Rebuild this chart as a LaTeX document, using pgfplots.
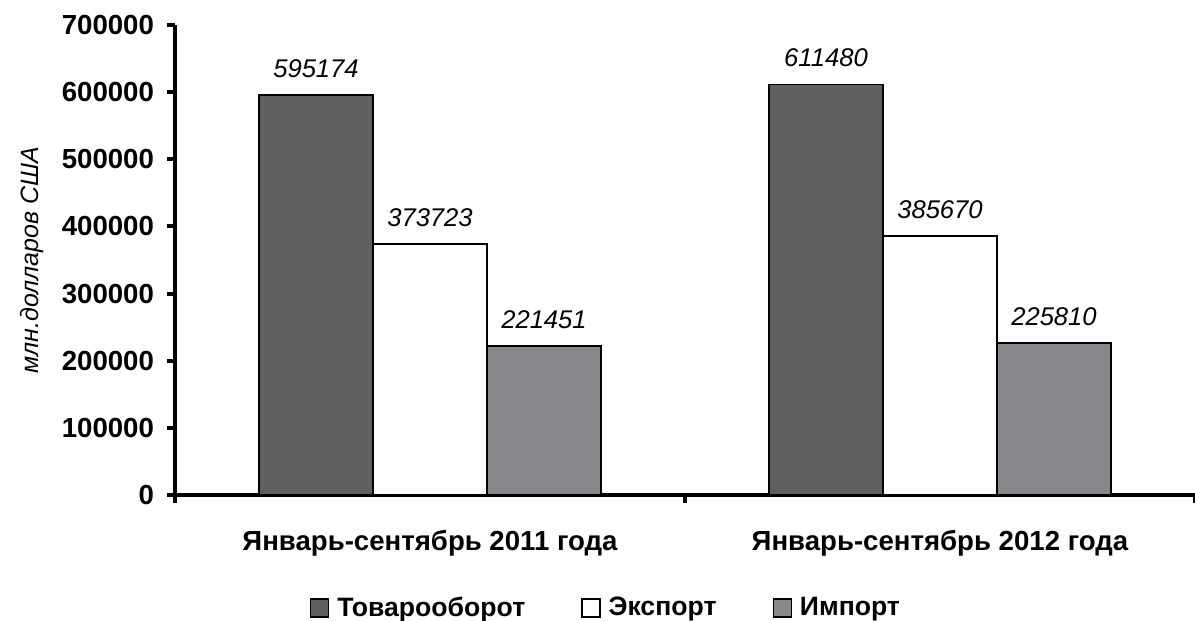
\documentclass[border=0pt]{standalone}
\usepackage{pgfplots}
\pgfplotsset{compat=1.18}
\usepackage{fontspec}
\setmainfont{Liberation Sans}
\definecolor{darkbar}{HTML}{5F5F62}
\definecolor{greybar}{HTML}{88888C}

\pgfplotsset{
  boxleg/.style={legend image code/.code={%
    \draw[##1, line width=0.7pt] (0pt,-4.5pt) rectangle (9pt,4.5pt);}},
}

\begin{document}
\begin{tikzpicture}
  \begin{axis}[
      scale only axis,
      width=510pt, height=235pt,
      ybar=0pt, bar width=57pt,
      xmin=-0.5, xmax=1.5,
      ymin=0, ymax=700000,
      axis x line*=bottom, axis y line*=left,
      axis line style={-, line width=2pt},
      tick align=outside,
      major tick length=4pt,
      tick style={line width=2pt, black},
      xtick={-0.5,0.5,1.5}, xticklabels={},
      extra x ticks={0,1},
      extra x tick labels={Январь-сентябрь 2011 года, Январь-сентябрь 2012 года},
      extra x tick style={major tick length=0pt,
        xticklabel style={yshift=-14pt}},
      ytick={0,100000,...,700000},
      scaled y ticks=false,
      yticklabel style={/pgf/number format/fixed, /pgf/number format/1000 sep={},
        xshift=-3pt},
      ticklabel style={font=\bfseries\fontsize{13.8pt}{16pt}\selectfont},
      /pgf/number format/assume math mode=true,
      ylabel={млн.долларов США},
      ylabel style={font=\itshape\fontsize{12.5pt}{14pt}\selectfont, yshift=2pt},
      nodes near coords,
      nodes near coords style={font=\itshape\fontsize{12.8pt}{15pt}\selectfont,
        /pgf/number format/fixed, /pgf/number format/1000 sep={},
        yshift=5pt},
      point meta=y,
      legend columns=3,
      legend style={draw=none, at={(0.4235,-0.24)}, anchor=center,
        font=\bfseries\fontsize{13.3pt}{15pt}\selectfont,
        /tikz/every even column/.append style={column sep=26pt},
        /tikz/every odd column/.append style={column sep=2pt}},
      boxleg,
    ]
    \addplot[fill=darkbar, draw=black, line width=0.9pt]
      coordinates {(0,595174) (1,611480)};
    \addplot[fill=white, draw=black, line width=0.9pt]
      coordinates {(0,373723) (1,385670)};
    \addplot[fill=greybar, draw=black, line width=0.9pt]
      coordinates {(0,221451) (1,225810)};
    \legend{Товарооборот, Экспорт, Импорт}
    \coordinate (ll) at (rel axis cs:0,0);
    \coordinate (ur) at (rel axis cs:1,1);
  \end{axis}
  \pgfresetboundingbox
  \path ([shift={(-87.5pt,-63pt)}]ll) rectangle ([shift={(0pt,12.5pt)}]ur);
\end{tikzpicture}
\end{document}
